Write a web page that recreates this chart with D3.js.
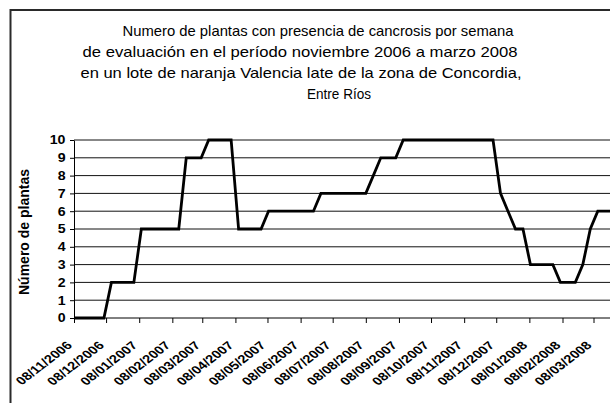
<!DOCTYPE html>
<html>
<head>
<meta charset="utf-8">
<script src="https://cdn.jsdelivr.net/npm/d3@7"></script>
<style>
  body { margin: 0; background: #fff; }
  svg { display: block; font-family: "Liberation Sans", Arial, sans-serif; }
</style>
</head>
<body>
<div id="container"></div>
<script>
/* CONSTANTS AND GLOBALS */
const width = 610,
  height = 403,
  margin = { top: 140, bottom: 85, left: 74, right: 16 };

// DATA: one evaluation per week, first one on 08/11/2006
const firstWeek = "08/11/2006";
const plantCounts = [
  0, 0, 0, 0, 0, 2, 2, 2, 2, 5, 5, 5, 5, 5, 5, 9, 9, 9,
  10, 10, 10, 10, 5, 5, 5, 5, 6, 6, 6, 6, 6, 6, 6, 7, 7, 7,
  7, 7, 7, 7, 8, 9, 9, 9, 10, 10, 10, 10, 10, 10, 10, 10, 10, 10,
  10, 10, 10, 7, 6, 5, 5, 3, 3, 3, 3, 2, 2, 2, 3, 5, 6, 6, 6
];
const monthTicks = [
  "08/11/2006", "08/12/2006", "08/01/2007", "08/02/2007", "08/03/2007",
  "08/04/2007", "08/05/2007", "08/06/2007", "08/07/2007", "08/08/2007",
  "08/09/2007", "08/10/2007", "08/11/2007", "08/12/2007", "08/01/2008",
  "08/02/2008", "08/03/2008"
];
const yTicks = [0, 1, 2, 3, 4, 5, 6, 7, 8, 9, 10];
const titleLines = [
  "Numero de plantas con presencia de cancrosis por semana",
  "de evaluación en el período noviembre 2006 a marzo 2008",
  "en un lote de naranja Valencia late de la zona de Concordia,",
  "Entre Ríos"
];
const yLabel = "Número de plantas";

let xScale;
let yScale;
let svg;

const parseDate = d3.timeParse("%d/%m/%Y");

/* APPLICATION STATE */
let state = {
  data: plantCounts.map((v, i) => ({
    date: d3.timeDay.offset(parseDate(firstWeek), 7 * i),
    value: v
  }))
};

init();

function init() {
  xScale = d3.scaleTime()
    .domain([parseDate(monthTicks[0]), parseDate(monthTicks[monthTicks.length - 1])])
    .range([margin.left, 593.5]);

  yScale = d3.scaleLinear()
    .domain([0, 10])
    .range([318, margin.top]);

  svg = d3.select("#container")
    .append("svg")
    .attr("width", width)
    .attr("height", height);

  // chart frame (cut off on the right and bottom in the original)
  svg.append("rect")
    .attr("x", 10.5)
    .attr("y", 10)
    .attr("width", 640)
    .attr("height", 440)
    .attr("fill", "#fff")
    .attr("stroke", "#2a2a2a")
    .attr("stroke-width", 2);

  draw();
}

function draw() {
  // title, each line placed where it sits in the original
  const titleX = [318, 300, 301, 339];
  const titleW = [391, 435, 441, 64];
  svg.append("g")
    .selectAll("text")
    .data(titleLines)
    .join("text")
    .attr("x", (d, i) => titleX[i])
    .attr("y", (d, i) => 36 + i * 21)
    .attr("text-anchor", "middle")
    .attr("textLength", (d, i) => titleW[i])
    .attr("lengthAdjust", "spacingAndGlyphs")
    .style("font-size", "15px")
    .attr("fill", "#000")
    .text(d => d);

  // gridlines
  svg.append("g")
    .selectAll("line")
    .data(yTicks.slice(1))
    .join("line")
    .attr("x1", margin.left)
    .attr("x2", width)
    .attr("y1", d => yScale(d))
    .attr("y2", d => yScale(d))
    .attr("stroke", "#111")
    .attr("stroke-width", 1);

  // y axis
  const yAxis = d3.axisLeft(yScale)
    .tickValues(yTicks)
    .tickSize(4)
    .tickSizeOuter(0);

  const gy = svg.append("g")
    .attr("transform", `translate(${margin.left},0)`)
    .call(yAxis);
  gy.select(".domain").attr("stroke", "#000");
  gy.selectAll("text")
    .style("font-size", "12px")
    .style("font-weight", "bold")
    .attr("fill", "#000")
    .attr("x", 0)
    .attr("transform", "translate(-8.5,0) scale(1.18,1)");

  // x axis
  const xAxis = d3.axisBottom(xScale)
    .tickValues(monthTicks.map(parseDate))
    .tickSize(5)
    .tickSizeOuter(0)
    .tickFormat("");

  const gx = svg.append("g")
    .attr("transform", "translate(0,318)")
    .call(xAxis);
  gx.select(".domain").remove();
  gx.append("line")
    .attr("x1", margin.left)
    .attr("x2", width)
    .attr("stroke", "#000");

  svg.append("g")
    .selectAll("text")
    .data(monthTicks)
    .join("text")
    .attr("transform", d => `translate(${xScale(parseDate(d)) - 1},346) scale(1.3,1) rotate(-45)`)
    .attr("text-anchor", "end")
    .style("font-size", "11.3px")
    .style("font-weight", "bold")
    .text(d => d);

  // y axis label
  svg.append("text")
    .attr("transform", "translate(28.5,232) rotate(-90)")
    .attr("text-anchor", "middle")
    .style("font-size", "14px")
    .style("font-weight", "bold")
    .text(yLabel);

  // the line
  const line = d3.line()
    .x(d => xScale(d.date))
    .y(d => yScale(d.value));

  svg.append("path")
    .datum(state.data)
    .attr("d", line)
    .attr("fill", "none")
    .attr("stroke", "#000")
    .attr("stroke-width", 2.8)
    .attr("stroke-linejoin", "miter");
}
</script>
</body>
</html>
